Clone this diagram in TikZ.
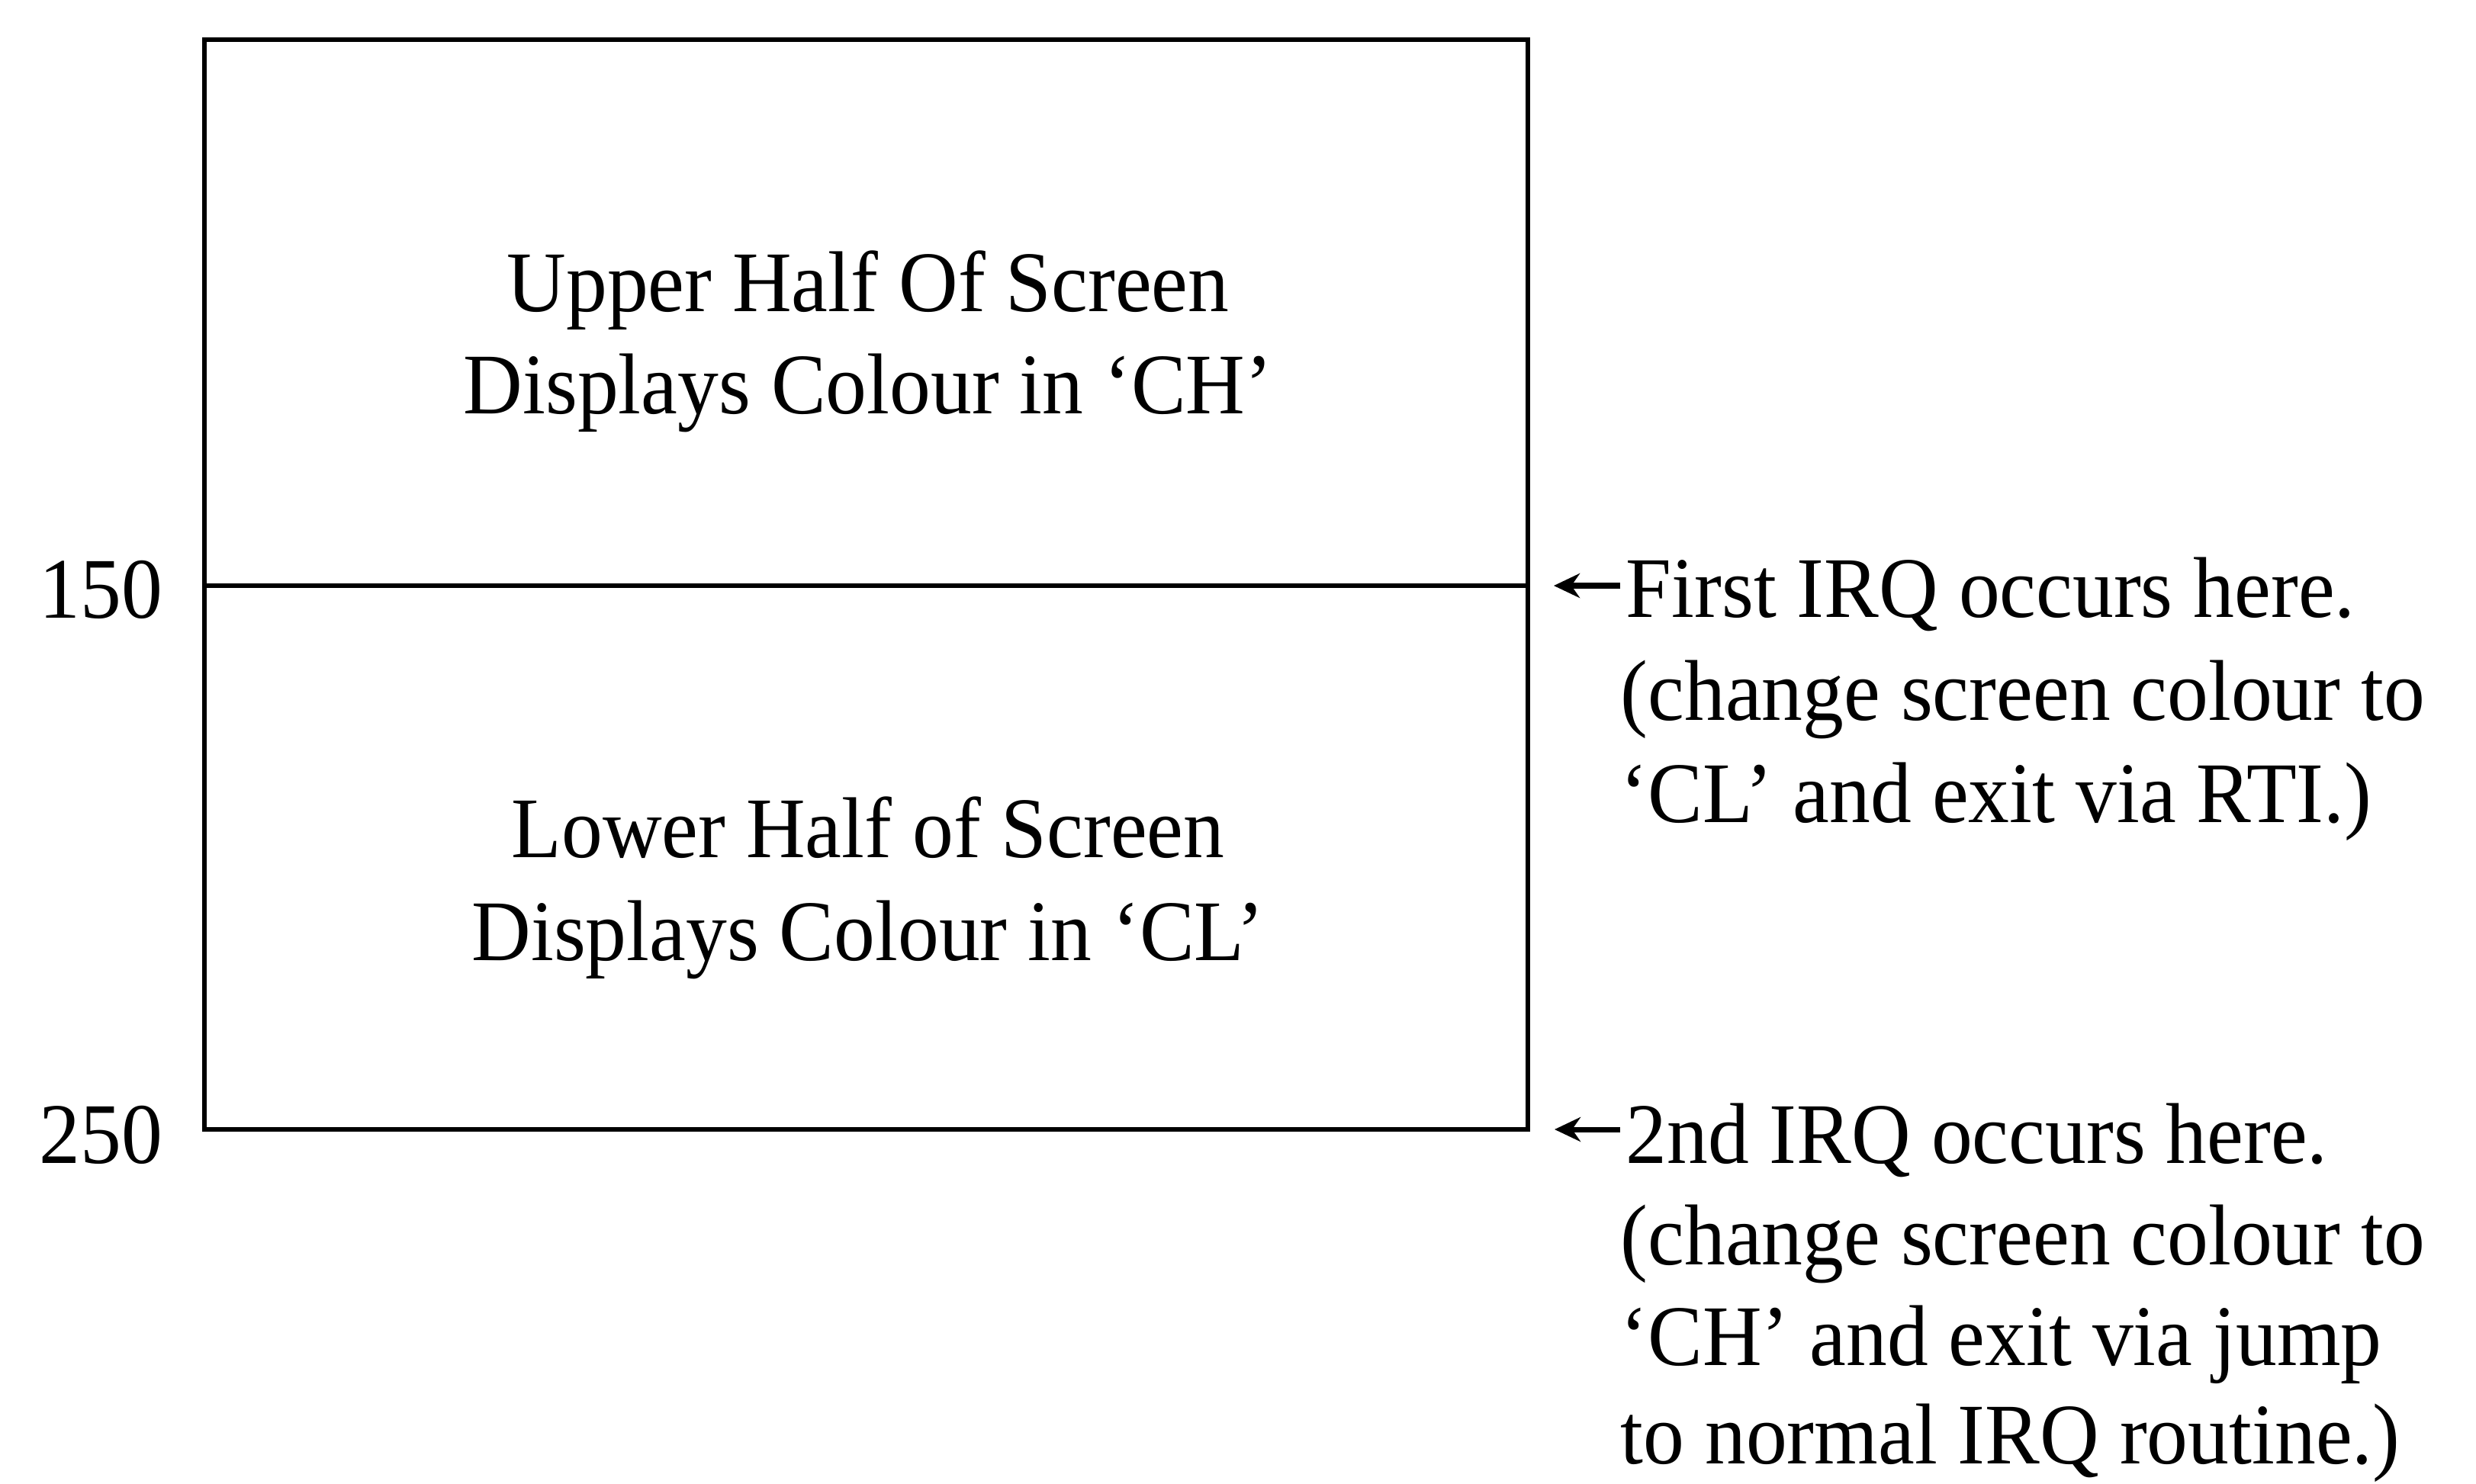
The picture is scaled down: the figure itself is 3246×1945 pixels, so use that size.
\documentclass[tikz,border=0pt]{standalone}
\usepackage{fontspec}
\setmainfont{Liberation Serif}[FakeStretch=0.95]
\usetikzlibrary{arrows.meta}
\begin{document}
\begin{tikzpicture}[x=0.01cm,y=-0.01cm,
  lbl/.style={inner sep=0pt, font=\fontsize{32.2pt}{38pt}\selectfont},
  boxline/.style={line width=1.8pt},
  irq/.style={line width=2pt, -{Stealth[length=0.34cm,width=0.32cm,inset=0.11cm]}}]
\useasboundingbox (0,0) rectangle (3246,1945);
% screen box
\coordinate (tl) at (268,52);
\coordinate (br) at (2003,1481);
\coordinate (midL) at (268,768);
\coordinate (midR) at (2003,768);
\draw[boxline] (tl) rectangle (br);
\draw[boxline] (midL) -- (midR);
% box texts
\node[lbl, anchor=base] (up1) at (1138,408) {Upper Half Of Screen};
\node[lbl, anchor=base] (up2) at (1138,542) {Displays Colour in ‘CH’};
\node[lbl, anchor=base] (lo1) at (1138,1124) {Lower Half of Screen};
\node[lbl, anchor=base] (lo2) at (1138,1259) {Displays Colour in ‘CL’};
% scan line numbers
\node[lbl, anchor=base east] (n150) at (214,810) {150};
\node[lbl, anchor=base east] (n250) at (214,1525) {250};
% arrows
\coordinate (tip1) at (2037,768);
\coordinate (tail1) at (2124,768);
\coordinate (tip2) at (2038,1481);
\coordinate (tail2) at (2124,1481);
\draw[irq] (tail1) -- (tip1);
\draw[irq] (tail2) -- (tip2);
% first IRQ text
\node[lbl, anchor=base west] (f1) at (2131,809) {First IRQ occurs here.};
\node[lbl, anchor=base west] (f2) at (2124,944) {(change screen colour to};
\node[lbl, anchor=base west] (f3) at (2124,1078) {‘CL’ and exit via RTI.)};
% second IRQ text
\node[lbl, anchor=base west] (s1) at (2131,1525) {2nd IRQ occurs here.};
\node[lbl, anchor=base west] (s2) at (2124,1658) {(change screen colour to};
\node[lbl, anchor=base west] (s3) at (2124,1790) {‘CH’ and exit via jump};
\node[lbl, anchor=base west] (s4) at (2124,1919) {to normal IRQ routine.)};
\end{tikzpicture}
\end{document}
